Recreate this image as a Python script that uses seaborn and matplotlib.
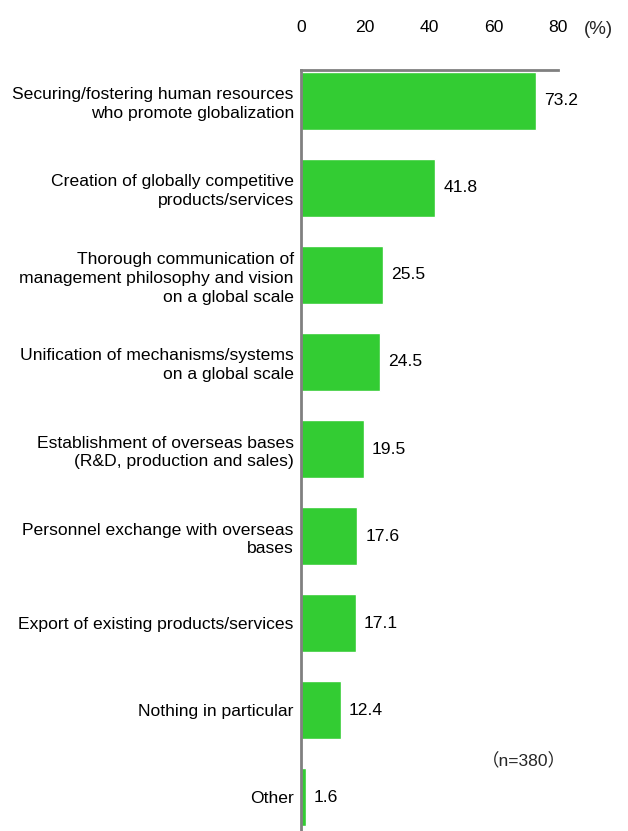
import matplotlib
matplotlib.use("Agg")
import matplotlib.pyplot as plt
import seaborn as sns
import pandas as pd

categories = [
    "Securing/fostering human resources\nwho promote globalization",
    "Creation of globally competitive\nproducts/services",
    "Thorough communication of\nmanagement philosophy and vision\non a global scale",
    "Unification of mechanisms/systems\non a global scale",
    "Establishment of overseas bases\n(R&D, production and sales)",
    "Personnel exchange with overseas\nbases",
    "Export of existing products/services",
    "Nothing in particular",
    "Other",
]
values = [73.2, 41.8, 25.5, 24.5, 19.5, 17.6, 17.1, 12.4, 1.6]
x_ticks = [0, 20, 40, 60, 80]
sample_note = "（n=380）"

sns.set_theme(style="white")
plt.rcParams["font.family"] = ["Liberation Sans", "Noto Sans CJK JP", "DejaVu Sans"]

df = pd.DataFrame({"item": categories, "pct": values})

fig = plt.figure(figsize=(6.28, 8.31), dpi=100)
ax = fig.add_axes([0.479, 0.0, 0.410, 0.9158])

sns.barplot(data=df, x="pct", y="item", orient="h", color="#33CC33",
            saturation=1, width=0.66, ax=ax)

fs = 12.6
ax.set_xlim(0, 80)
ax.set_ylim(8.39, -0.356)
ax.set_xlabel("")
ax.set_ylabel("")
ax.xaxis.tick_top()
ax.set_xticks(x_ticks)
ax.set_xticklabels([str(t) for t in x_ticks])
ax.tick_params(axis="x", length=0, pad=25, labelsize=fs, colors="#000000")
ax.tick_params(axis="y", length=0, pad=5, labelsize=fs, colors="#000000")
for lbl in ax.get_yticklabels():
    lbl.set_horizontalalignment("right")
    lbl.set_multialignment("right")
    lbl.set_linespacing(1.32)

for s in ["right", "bottom"]:
    ax.spines[s].set_visible(False)
for s in ["left", "top"]:
    ax.spines[s].set_color("#808080")
    ax.spines[s].set_linewidth(2)

for i, v in enumerate(values):
    ax.text(v + 2.5, i, f"{v:.1f}", va="center", ha="left", fontsize=fs, color="#000000")

fig.text(0.929, 1 - 30 / 831, "(%)", ha="left", va="center", fontsize=13.5)
fig.text(0.768, 1 - 761 / 831, sample_note, ha="left", va="center", fontsize=fs)

fig.savefig("out.png", dpi=100)
